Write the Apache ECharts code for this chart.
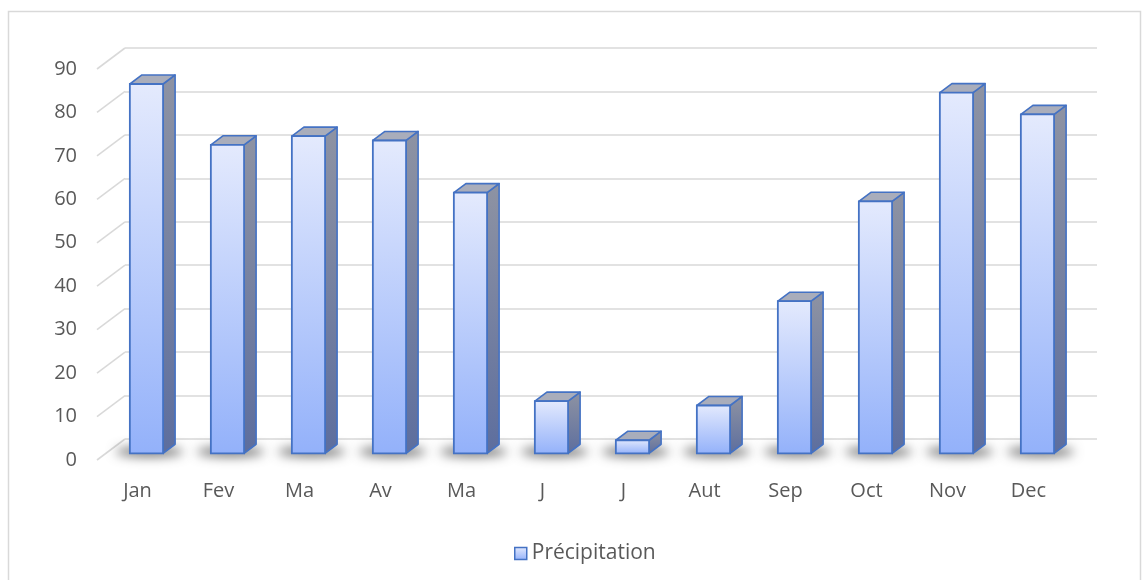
<!DOCTYPE html>
<html>
<head>
<meta charset="utf-8">
<title>Précipitation</title>
<script src="https://cdn.jsdelivr.net/npm/echarts@6/dist/echarts.min.js"></script>
<style>
  html, body { margin: 0; padding: 0; background: #ffffff; }
  #chart { width: 1145px; height: 580px; }
</style>
</head>
<body>
<div id="chart"></div>
<script>
// Monthly precipitation (mm)
const months = ['Jan', 'Fev', 'Ma', 'Av', 'Ma', 'J', 'J', 'Aut', 'Sep', 'Oct', 'Nov', 'Dec'];
const precipitation = [85, 71, 73, 72, 60, 12, 3, 11, 35, 58, 83, 78];
const yTicks = [0, 10, 20, 30, 40, 50, 60, 70, 80, 90];
const seriesName = 'Précipitation';

// Oblique depth of the floor (front plane -> back wall), in pixels
const DEPTH = [28, -21];
// Bar box sits between these depth fractions
const BAR_Z0 = 0.32;
const BAR_Z1 = 0.75;
const BAR_WIDTH_RATIO = 0.41;
// Shapes for the floor shadow are drawn off-canvas; only their blur is shifted back
const SHADOW_SHIFT = 3000;

const textColor = '#595959';
const gridColor = '#d9d9d9';
const edgeColor = '#4472c4';
const fontFamily = '"Open Sans", "Noto Sans", sans-serif';

const frontGradient = new echarts.graphic.LinearGradient(0, 0, 0, 1, [
  { offset: 0, color: '#e4eafd' },
  { offset: 1, color: '#93b1fa' }
]);
const sideGradient = new echarts.graphic.LinearGradient(0, 0, 0, 1, [
  { offset: 0, color: '#8e93a3' },
  { offset: 1, color: '#5d6e9e' }
]);

function renderBar(params, api) {
  const i = api.value(0);
  const v = api.value(1);
  const base = api.coord([i, 0]);
  const top = api.coord([i, v]);
  const slot = api.size([1, 0])[0];
  const hw = slot * BAR_WIDTH_RATIO / 2;
  const dx0 = DEPTH[0] * BAR_Z0, dy0 = DEPTH[1] * BAR_Z0;
  const dx1 = DEPTH[0] * BAR_Z1, dy1 = DEPTH[1] * BAR_Z1;
  const xl = base[0] - hw, xr = base[0] + hw;
  const yb = base[1], yt = top[1];
  const dzm = (BAR_Z0 + BAR_Z1) / 2;

  return {
    type: 'group',
    children: [
      {
        // soft floor shadow (blur only)
        type: 'ellipse',
        shape: {
          cx: base[0] + DEPTH[0] * dzm - 3 - SHADOW_SHIFT,
          cy: yb + DEPTH[1] * dzm + 3,
          rx: hw + 17,
          ry: 5
        },
        style: {
          fill: '#000',
          shadowBlur: 11,
          shadowOffsetX: SHADOW_SHIFT,
          shadowColor: 'rgba(0,0,0,0.55)'
        },
        z2: 0
      },
      {
        // right side face
        type: 'polygon',
        shape: {
          points: [
            [xr + dx0, yt + dy0],
            [xr + dx1, yt + dy1],
            [xr + dx1, yb + dy1],
            [xr + dx0, yb + dy0]
          ]
        },
        style: { fill: sideGradient, stroke: edgeColor, lineWidth: 1.6, lineJoin: 'round' },
        z2: 1
      },
      {
        // top face
        type: 'polygon',
        shape: {
          points: [
            [xl + dx0, yt + dy0],
            [xl + dx1, yt + dy1],
            [xr + dx1, yt + dy1],
            [xr + dx0, yt + dy0]
          ]
        },
        style: { fill: '#a9adbb', stroke: edgeColor, lineWidth: 1.6, lineJoin: 'round' },
        z2: 1
      },
      {
        // front face
        type: 'rect',
        shape: {
          x: xl + dx0,
          y: yt + dy0,
          width: xr - xl,
          height: yb - yt
        },
        style: { fill: frontGradient, stroke: edgeColor, lineWidth: 1.8 },
        z2: 2
      }
    ]
  };
}

// Left wall diagonals joining the front tick positions to the back wall
function renderWall(params, api) {
  const v = api.value(0);
  const p = api.coord([0, v]);
  const slot = api.size([1, 0])[0];
  const x = p[0] - slot / 2;
  return {
    type: 'line',
    shape: { x1: x, y1: p[1], x2: x + DEPTH[0], y2: p[1] + DEPTH[1] },
    style: { stroke: gridColor, lineWidth: 1.6 },
    silent: true
  };
}

const frontGrid = { left: 97, top: 69, width: 972, height: 391 };
const backGrid = {
  left: frontGrid.left + DEPTH[0],
  top: frontGrid.top + DEPTH[1],
  width: frontGrid.width,
  height: frontGrid.height
};

const chart = echarts.init(document.getElementById('chart'), null, { renderer: 'canvas' });

chart.setOption({
  animation: false,
  backgroundColor: '#ffffff',
  textStyle: { fontFamily: fontFamily },
  graphic: [
    {
      type: 'rect',
      shape: { x: 8.5, y: 11.5, width: 1132, height: 600 },
      style: { fill: 'none', stroke: gridColor, lineWidth: 1.5 },
      silent: true,
      z: -10
    }
  ],
  legend: {
    data: [{
      name: seriesName,
      icon: 'rect',
      itemStyle: { color: frontGradient, borderColor: edgeColor, borderWidth: 1.5 }
    }],
    left: 509,
    top: 538,
    itemWidth: 12,
    itemHeight: 12,
    itemGap: 6,
    textStyle: { color: textColor, fontSize: 21, fontFamily: fontFamily },
    selectedMode: false
  },
  grid: [
    Object.assign({ containLabel: false }, frontGrid),
    Object.assign({ containLabel: false }, backGrid)
  ],
  xAxis: [
    {
      type: 'category',
      gridIndex: 0,
      data: months,
      axisLine: { show: false },
      axisTick: { show: false },
      axisLabel: { color: textColor, fontSize: 20, margin: 21, fontFamily: fontFamily }
    },
    {
      type: 'category',
      gridIndex: 1,
      data: months,
      show: false
    }
  ],
  yAxis: [
    {
      type: 'value',
      gridIndex: 0,
      min: 0,
      max: 90,
      interval: 10,
      axisLine: { show: false },
      axisTick: { show: false },
      splitLine: { show: false },
      axisLabel: { color: textColor, fontSize: 20, margin: 20, fontFamily: fontFamily }
    },
    {
      type: 'value',
      gridIndex: 1,
      min: 0,
      max: 90,
      interval: 10,
      axisLine: { show: false },
      axisTick: { show: false },
      axisLabel: { show: false },
      splitLine: { show: true, lineStyle: { color: gridColor, width: 1.6 } }
    }
  ],
  series: [
    {
      type: 'custom',
      name: 'wall',
      xAxisIndex: 0,
      yAxisIndex: 0,
      renderItem: renderWall,
      data: yTicks.map(t => [t]),
      encode: { y: 0 },
      silent: true,
      z: 1
    },
    {
      type: 'custom',
      name: seriesName,
      xAxisIndex: 0,
      yAxisIndex: 0,
      renderItem: renderBar,
      itemStyle: { color: '#a4bdfb', borderColor: edgeColor },
      data: precipitation.map((v, i) => [i, v]),
      encode: { x: 0, y: 1 },
      z: 5
    }
  ]
});
</script>
</body>
</html>
